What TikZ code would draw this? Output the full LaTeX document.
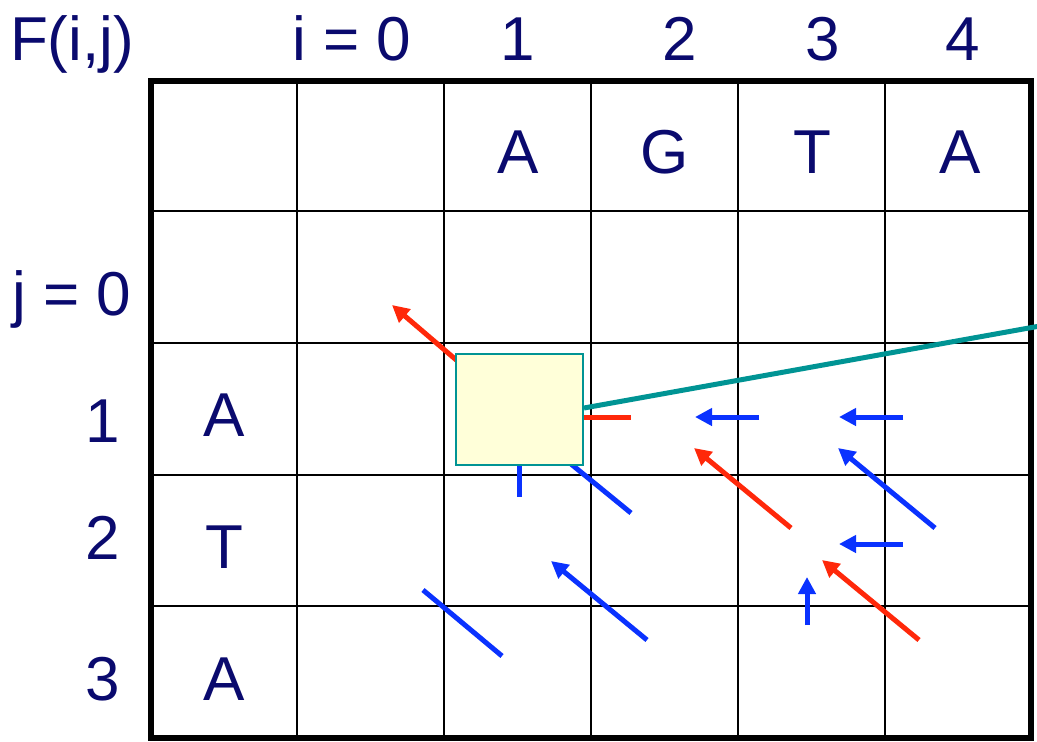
\documentclass[tikz,border=0pt]{standalone}
\usepackage{fontspec}
\setmainfont{Liberation Sans}
\usetikzlibrary{arrows.meta}
\definecolor{txt}{RGB}{10,10,110}
\definecolor{redarr}{RGB}{255,40,10}
\definecolor{bluearr}{RGB}{10,50,255}
\definecolor{tealline}{RGB}{0,148,148}
\definecolor{boxfill}{RGB}{255,255,217}
\begin{document}
\begin{tikzpicture}[x=1pt,y=-1pt,
  lbl/.style={text=txt, font=\fontsize{62}{62}\selectfont, anchor=base, inner sep=0pt},
  gridline/.style={line width=2.2pt, black},
  border/.style={line width=6pt, black},
  arrowred/.style={line width=5pt, redarr, -{Triangle[length=17pt,width=17pt]}},
  arrowblue/.style={line width=5pt, bluearr, -{Triangle[length=17pt,width=17pt]}},
  stubred/.style={line width=5pt, redarr},
  stubblue/.style={line width=5pt, bluearr},
  cellbox/.style={draw=tealline, line width=2pt, fill=boxfill, minimum width=127pt, minimum height=111pt, inner sep=0pt, anchor=north west},
  pointer/.style={line width=5pt, tealline}]
\useasboundingbox (0,0) rectangle (1037,742);
% grid
\foreach \x in {297,444,591,738,885} \draw[gridline] (\x,80.5) -- (\x,738);
\foreach \y in {211,343,475,606} \draw[gridline] (150.5,\y) -- (1031,\y);
\draw[border] (150.5,80.5) rectangle (1031,738);
% header texts
\node[lbl] (F) at (72,60) {F(i,j)};
\node[lbl] (i0) at (352,60) {i = 0};
\node[lbl] (i1) at (518,60) {1};
\node[lbl] (i2) at (680,60) {2};
\node[lbl] (i3) at (823,60) {3};
\node[lbl] (i4) at (963,60) {4};
\node[lbl] (j0) at (72,315) {j = 0};
\node[lbl] (j1) at (103,442) {1};
\node[lbl] (j2) at (103,559) {2};
\node[lbl] (j3) at (103,700) {3};
% sequence letters
\node[lbl] (cA1) at (518,173) {A};
\node[lbl] (cG) at (665,173) {G};
\node[lbl] (cT) at (812,173) {T};
\node[lbl] (cA4) at (960,173) {A};
\node[lbl] (rA1) at (224,436) {A};
\node[lbl] (rT) at (224,568) {T};
\node[lbl] (rA3) at (224,700) {A};
% arrow endpoints
\coordinate (r1s) at (475,376); \coordinate (r1e) at (392,305);
\coordinate (bd0s) at (560,455); \coordinate (bd0e) at (631,513);
\coordinate (bv0s) at (519,460); \coordinate (bv0e) at (519,497);
\coordinate (rs0s) at (575,417); \coordinate (rs0e) at (631,417);
\coordinate (bl1s) at (759,417); \coordinate (bl1e) at (695,417);
\coordinate (bl2s) at (903,417); \coordinate (bl2e) at (839,417);
\coordinate (r2s) at (791,528); \coordinate (r2e) at (694,448);
\coordinate (bd2s) at (935,528); \coordinate (bd2e) at (838,448);
\coordinate (bl3s) at (903,544); \coordinate (bl3e) at (839,544);
\coordinate (r3s) at (919,640); \coordinate (r3e) at (822,560);
\coordinate (bus) at (807,625); \coordinate (bue) at (807,577);
\coordinate (bd3s) at (423,590); \coordinate (bd3e) at (502,656);
\coordinate (bd4s) at (647,640); \coordinate (bd4e) at (551,561);
% arrows
\draw[arrowred] (r1s) -- (r1e);
\draw[stubblue] (bd0s) -- (bd0e);
\draw[stubblue] (bv0s) -- (bv0e);
\draw[stubred] (rs0s) -- (rs0e);
\draw[arrowblue] (bl1s) -- (bl1e);
\draw[arrowblue] (bl2s) -- (bl2e);
\draw[arrowred] (r2s) -- (r2e);
\draw[arrowblue] (bd2s) -- (bd2e);
\draw[arrowblue] (bl3s) -- (bl3e);
\draw[arrowred] (r3s) -- (r3e);
\draw[arrowblue] (bus) -- (bue);
\draw[stubblue] (bd3s) -- (bd3e);
\draw[arrowblue] (bd4s) -- (bd4e);
% highlighted cell and pointer
\node[cellbox] (cell) at (455,353) {};
\coordinate (ptrend) at (1040,326);
\draw[pointer] (cell.east |- 0,408) -- (ptrend);
\end{tikzpicture}
\end{document}
